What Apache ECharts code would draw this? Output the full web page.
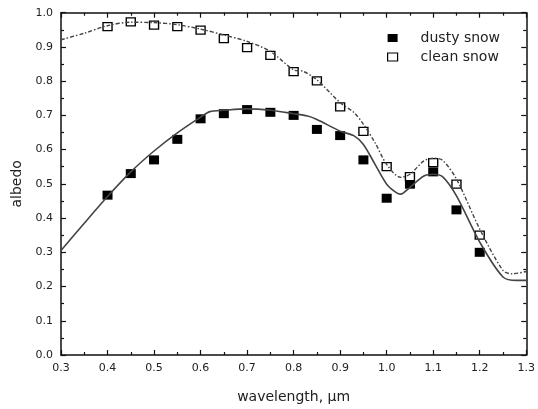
<!DOCTYPE html>
<html>
<head>
<meta charset="utf-8">
<script src="https://cdn.jsdelivr.net/npm/echarts@6/dist/echarts.min.js"></script>
<style>
  html, body { margin: 0; padding: 0; background: #fff; }
  #chart { width: 538px; height: 409px; }
</style>
</head>
<body>
<div id="chart"></div>
<script>
const waveObs = [0.4, 0.45, 0.5, 0.55, 0.6, 0.65, 0.7, 0.75, 0.8, 0.85, 0.9, 0.95, 1.0, 1.05, 1.1, 1.15, 1.2]
const dustyObs = [0.467, 0.530, 0.570, 0.630, 0.690, 0.705, 0.717, 0.709, 0.700, 0.659, 0.641, 0.570, 0.458, 0.499, 0.535, 0.424, 0.300]
const cleanObs = [0.959, 0.973, 0.964, 0.959, 0.949, 0.924, 0.898, 0.875, 0.828, 0.801, 0.725, 0.653, 0.550, 0.521, 0.562, 0.499, 0.350]

const dustyModelX = [0.3, 0.35, 0.4, 0.45, 0.5, 0.55, 0.6, 0.62, 0.65, 0.7, 0.75, 0.8, 0.83, 0.85, 0.9, 0.93, 0.95, 0.975, 1.0, 1.02, 1.03, 1.05, 1.08, 1.1, 1.12, 1.15, 1.2, 1.25, 1.28, 1.3]
const dustyModel = [0.305, 0.385, 0.463, 0.535, 0.596, 0.649, 0.695, 0.711, 0.715, 0.719, 0.715, 0.705, 0.698, 0.688, 0.654, 0.640, 0.615, 0.557, 0.499, 0.475, 0.470, 0.490, 0.523, 0.528, 0.521, 0.465, 0.330, 0.228, 0.218, 0.218]

const cleanModelX = [0.3, 0.35, 0.4, 0.45, 0.5, 0.55, 0.6, 0.65, 0.7, 0.75, 0.8, 0.82, 0.85, 0.9, 0.93, 0.95, 0.975, 1.0, 1.03, 1.05, 1.08, 1.1, 1.12, 1.15, 1.2, 1.25, 1.27, 1.3]
const cleanModel = [0.921, 0.940, 0.962, 0.972, 0.971, 0.965, 0.952, 0.935, 0.916, 0.887, 0.833, 0.829, 0.804, 0.737, 0.708, 0.674, 0.620, 0.557, 0.519, 0.528, 0.567, 0.575, 0.569, 0.514, 0.368, 0.247, 0.237, 0.244]

function zip(xs, ys) { return xs.map(function (x, i) { return [x, ys[i]] }) }

const font = 'DejaVu Sans, Verdana, sans-serif'
const ink = '#222'

const tickAxis = {
  type: 'value',
  axisLine: { show: true, onZero: false, lineStyle: { color: '#111', width: 1.5 } },
  axisTick: { show: true, inside: true, length: 5, lineStyle: { color: '#111', width: 1.2 } },
  minorTick: { show: true, splitNumber: 2, length: 3, lineStyle: { color: '#111', width: 1.2 } },
  splitLine: { show: false }
}

const chart = echarts.init(document.getElementById('chart'), null, { renderer: 'canvas' })
chart.setOption({
  animation: false,
  backgroundColor: '#fff',
  textStyle: { fontFamily: font },
  grid: { left: 61, right: 9, top: 12.7, bottom: 52.3 },
  legend: {
    orient: 'vertical',
    left: 387,
    top: 31,
    padding: 0,
    itemWidth: 10,
    itemHeight: 8,
    itemGap: 5,
    textStyle: { fontSize: 14, color: ink, fontFamily: font, padding: [0, 0, 0, 18] },
    data: [
      { name: 'dusty snow', icon: 'rect' },
      { name: 'clean snow', icon: 'rect', itemStyle: { borderWidth: 1.2 } }
    ]
  },
  xAxis: [
    Object.assign({}, tickAxis, {
      min: 0.3, max: 1.3, interval: 0.1,
      name: 'wavelength, μm', nameLocation: 'middle', nameGap: 35,
      nameTextStyle: { fontSize: 14, color: ink },
      axisLabel: { fontSize: 11, color: ink, margin: 8, formatter: function (v) { return v.toFixed(1) } }
    }),
    Object.assign({}, tickAxis, {
      position: 'top', min: 0.3, max: 1.3, interval: 0.1,
      axisLabel: { show: false }
    })
  ],
  yAxis: [
    Object.assign({}, tickAxis, {
      min: 0, max: 1, interval: 0.1,
      name: 'albedo', nameLocation: 'middle', nameGap: 37,
      nameTextStyle: { fontSize: 14, color: ink },
      axisLabel: { fontSize: 11, color: ink, margin: 8, formatter: function (v) { return v.toFixed(1) } }
    }),
    Object.assign({}, tickAxis, {
      position: 'right', min: 0, max: 1, interval: 0.1,
      axisLabel: { show: false }
    })
  ],
  series: [
    {
      name: 'dusty model', type: 'line', data: zip(dustyModelX, dustyModel),
      smooth: 0.3, showSymbol: false, silent: true,
      lineStyle: { color: '#444', width: 1.6 }
    },
    {
      name: 'clean model', type: 'line', data: zip(cleanModelX, cleanModel),
      smooth: 0.3, showSymbol: false, silent: true,
      lineStyle: { color: '#444', width: 1.4, type: [4, 2, 1.5, 2] }
    },
    {
      name: 'dusty snow', type: 'scatter', data: zip(waveObs, dustyObs),
      symbol: 'rect', symbolSize: [10, 9],
      itemStyle: { color: '#000', opacity: 1 }
    },
    {
      name: 'clean snow', type: 'scatter', data: zip(waveObs, cleanObs),
      symbol: 'rect', symbolSize: [9, 8],
      itemStyle: { color: '#fff', borderColor: '#000', borderWidth: 1.3, opacity: 1 }
    }
  ]
})
</script>
</body>
</html>
